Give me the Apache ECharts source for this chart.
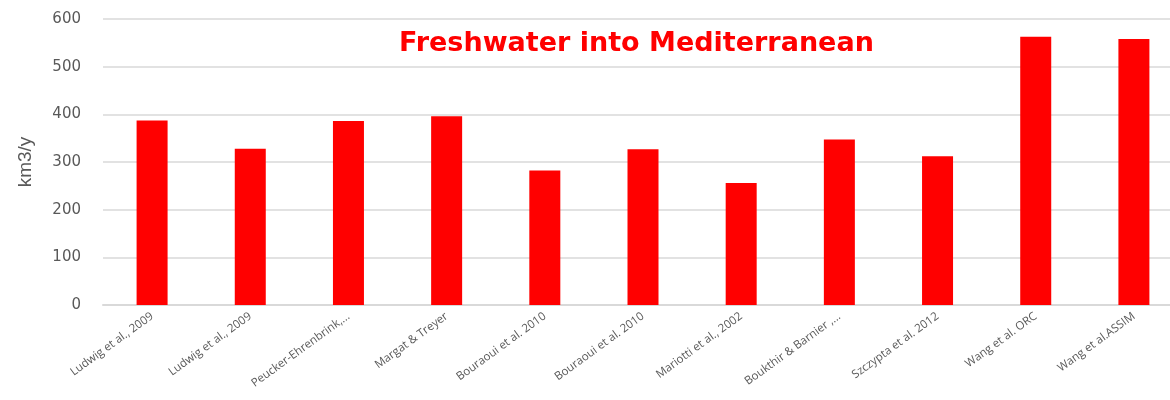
<!DOCTYPE html>
<html lang="en">
<head>
    <meta charset="UTF-8">
    <title>Freshwater into Mediterranean</title>
    <script src="https://cdn.jsdelivr.net/npm/echarts@6/dist/echarts.min.js"></script>
    <style>
        html, body { margin: 0; padding: 0; background: #fff; overflow: hidden; }
        /* plot runs past the right edge in the original, so the canvas is a bit wider than the window */
        #chart { width: 1183px; height: 400px; }
    </style>
</head>
<body>
<div id="chart"></div>
<script type="text/javascript">
    var studies = ['Ludwig et al., 2009', 'Ludwig et al., 2009', 'Peucker-Ehrenbrink,...', 'Margat & Treyer',
        'Bouraoui et al. 2010', 'Bouraoui et al. 2010', 'Mariotti et al., 2002', 'Boukthir & Barnier ,...',
        'Szczypta et al. 2012', 'Wang et al. ORC', 'Wang et al.ASSIM'];
    var freshwater = [387, 328, 386, 396, 282, 327, 256, 347, 312, 563, 558];
    var yTicks = [0, 100, 200, 300, 400, 500, 600];

    var chart = echarts.init(document.getElementById('chart'));
    var option = {
        animation: false,
        title: {
            text: 'Freshwater into Mediterranean',
            left: 394,
            top: 25,
            textStyle: {
                color: '#ff0000',
                fontFamily: 'DejaVu Sans',
                fontWeight: 'bold',
                fontSize: 27
            }
        },
        grid: {
            left: 103,
            top: 19,
            right: 0,
            bottom: 95,
            containLabel: false
        },
        xAxis: {
            type: 'category',
            data: studies,
            axisTick: { show: false },
            axisLine: { lineStyle: { color: '#d9d9d9', width: 2 } },
            axisLabel: {
                interval: 0,
                rotate: 36,
                margin: 10,
                color: '#595959',
                fontFamily: 'Open Sans',
                fontSize: 11.5
            }
        },
        yAxis: {
            type: 'value',
            min: yTicks[0],
            max: yTicks[yTicks.length - 1],
            interval: 100,
            name: 'km3/y',
            nameLocation: 'middle',
            nameGap: 68,
            nameTextStyle: {
                color: '#595959',
                fontFamily: 'Liberation Sans',
                fontSize: 19
            },
            axisLine: { show: false },
            axisTick: { show: false },
            axisLabel: {
                margin: 22,
                color: '#595959',
                fontFamily: 'DejaVu Sans',
                fontSize: 15
            },
            splitLine: { lineStyle: { color: '#d9d9d9', width: 1.5 } }
        },
        series: [{
            type: 'bar',
            data: freshwater,
            barWidth: 31,
            itemStyle: { color: '#ff0000' }
        }]
    };
    chart.setOption(option);
</script>
</body>
</html>
